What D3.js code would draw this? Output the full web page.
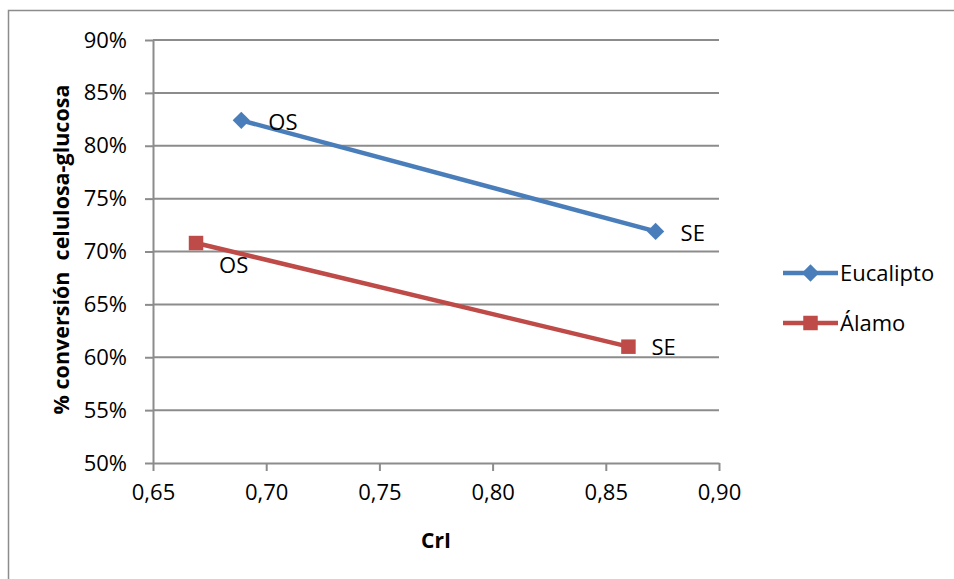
<!DOCTYPE html>
<html>
<head>
<meta charset="utf-8">
<script src="https://cdn.jsdelivr.net/npm/d3@7"></script>
<style>
  html, body { margin: 0; padding: 0; background: #fff; }
  svg { display: block; font-family: "Open Sans", "Noto Sans", sans-serif; }
</style>
</head>
<body>
<svg id="chart" width="954" height="579"></svg>
<script>
// Crystallinity index (CrI) vs. cellulose-to-glucose conversion
const seriesNames = ["Eucalipto", "Álamo"];
const pointLabels = ["OS", "SE"];
const eucaliptoCrI = [0.689, 0.872];
const eucaliptoConv = [0.824, 0.719];
const alamoCrI = [0.669, 0.860];
const alamoConv = [0.708, 0.610];
const xTicks = [0.65, 0.70, 0.75, 0.80, 0.85, 0.90];
const yTicks = [0.50, 0.55, 0.60, 0.65, 0.70, 0.75, 0.80, 0.85, 0.90];
const colors = ["#4A7EBB", "#BE4B48"];

const series = [
  { name: seriesNames[0], color: colors[0], shape: "diamond",
    pts: eucaliptoCrI.map((x, i) => ({ x, y: eucaliptoConv[i], label: pointLabels[i] })) },
  { name: seriesNames[1], color: colors[1], shape: "square",
    pts: alamoCrI.map((x, i) => ({ x, y: alamoConv[i], label: pointLabels[i] })) }
];

const svg = d3.select("#chart");
const plot = { left: 153, right: 719, top: 40, bottom: 463 };
const x = d3.scaleLinear().domain([0.65, 0.90]).range([plot.left, plot.right]);
const y = d3.scaleLinear().domain([0.50, 0.90]).range([plot.bottom, plot.top]);
const gridColor = "#8c8c8c";
const fmtX = v => d3.format(".2f")(v).replace(".", ",");
const fmtY = d3.format(".0%");
const fontSize = 22;

// chart frame
svg.append("rect")
  .attr("x", 8.5).attr("y", 10.5).attr("width", 960).attr("height", 600)
  .attr("fill", "none").attr("stroke", gridColor).attr("stroke-width", 1.5);

// horizontal gridlines
svg.append("g").selectAll("line").data(yTicks.slice(1)).join("line")
  .attr("x1", plot.left).attr("x2", plot.right)
  .attr("y1", d => y(d)).attr("y2", d => y(d))
  .attr("stroke", gridColor).attr("stroke-width", 2);

// y axis
const yAxis = svg.append("g").attr("transform", `translate(${plot.left},0)`)
  .call(d3.axisLeft(y).tickValues(yTicks).tickFormat(fmtY).tickSize(8).tickSizeOuter(0).tickPadding(18));
// x axis
const xAxis = svg.append("g").attr("transform", `translate(0,${plot.bottom})`)
  .call(d3.axisBottom(x).tickValues(xTicks).tickFormat(fmtX).tickSize(8).tickSizeOuter(0).tickPadding(13));

[yAxis, xAxis].forEach(ax => {
  ax.select(".domain").attr("stroke", gridColor).attr("stroke-width", 2);
  ax.selectAll(".tick line").attr("stroke", gridColor).attr("stroke-width", 2);
  ax.selectAll(".tick text").attr("fill", "#000").attr("font-size", fontSize)
    .attr("font-family", "'Open Sans', sans-serif");
});

// axis titles
svg.append("text")
  .attr("transform", `translate(69,${(plot.top + plot.bottom) / 2 - 2}) rotate(-90)`)
  .attr("text-anchor", "middle").attr("font-weight", "bold").attr("font-size", 21.5)
  .attr("xml:space", "preserve")
  .text("% conversión  celulosa-glucosa");
svg.append("text")
  .attr("x", (plot.left + plot.right) / 2).attr("y", 548)
  .attr("text-anchor", "middle").attr("font-weight", "bold").attr("font-size", 21)
  .text("CrI");

const line = d3.line().x(d => x(d.x)).y(d => y(d.y));
const symbolFor = s => s === "diamond"
  ? d3.symbol().type(d3.symbolDiamond2).size(190)
  : d3.symbol().type(d3.symbolSquare).size(210);

// series lines and markers
series.forEach(s => {
  svg.append("path").datum(s.pts).attr("d", line)
    .attr("fill", "none").attr("stroke", s.color).attr("stroke-width", 4.5);
  svg.append("g").selectAll("path").data(s.pts).join("path")
    .attr("transform", d => `translate(${x(d.x)},${y(d.y)})`)
    .attr("d", symbolFor(s.shape)())
    .attr("fill", s.color);
});

// point labels
const labelOffsets = [
  [{ dx: 27, dy: 2 }, { dx: 25, dy: 2 }],
  [{ dx: 23, dy: 22 }, { dx: 23, dy: 1 }]
];
series.forEach((s, si) => {
  svg.append("g").selectAll("text").data(s.pts).join("text")
    .attr("x", (d, i) => x(d.x) + labelOffsets[si][i].dx)
    .attr("y", (d, i) => y(d.y) + labelOffsets[si][i].dy)
    .attr("dy", "0.35em").attr("font-size", fontSize).attr("fill", "#000")
    .text(d => d.label);
});

// legend
const legend = svg.append("g").attr("transform", "translate(783,273)");
series.forEach((s, i) => {
  const g = legend.append("g").attr("transform", `translate(0,${i * 50})`);
  g.append("line").attr("x1", 0).attr("x2", 55).attr("y1", 0).attr("y2", 0)
    .attr("stroke", s.color).attr("stroke-width", 4.5);
  g.append("path").attr("transform", "translate(27.5,0)")
    .attr("d", symbolFor(s.shape)()).attr("fill", s.color);
  g.append("text").attr("x", 57).attr("y", 0).attr("dy", "0.35em")
    .attr("font-size", fontSize).attr("fill", "#000").text(s.name);
});
</script>
</body>
</html>
